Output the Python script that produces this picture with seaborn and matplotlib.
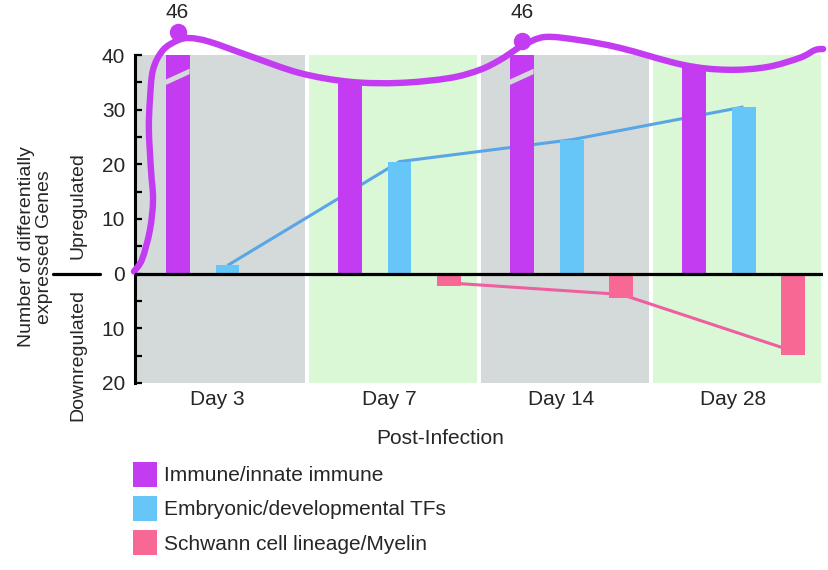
import numpy as np
import pandas as pd
import matplotlib
matplotlib.use("Agg")
import matplotlib.pyplot as plt
import matplotlib.transforms as mtransforms
from matplotlib.path import Path
from matplotlib.patches import PathPatch, Patch, Polygon
import seaborn as sns

# ---------------- data ----------------
days = ["Day 3", "Day 7", "Day 14", "Day 28"]
categories = ["Immune/innate immune", "Embryonic/developmental TFs",
              "Schwann cell lineage/Myelin"]
immune = [46, 35, 46, 38]            # upregulated
embryonic = [1.5, 20.5, 24.5, 30.5]  # upregulated
schwann_down = [0, 2.3, 4.4, 14.8]   # downregulated

y_ticks = [-20, -10, 0, 10, 20, 30, 40]
y_tick_labels = ["20", "10", "0", "10", "20", "30", "40"]
y_minor = [-15, -5, 5, 15, 25, 35]

# hand-drawn immune trend curve (knots, in day/value units)
trend_x = [-0.544, -0.497, -0.451, -0.433, -0.445, -0.457, -0.451, -0.433,
           -0.375, -0.288, -0.218, -0.102, 0.131, 0.421, 0.712, 1.003,
           1.293, 1.468, 1.584, 1.671, 1.718, 1.846, 2.049, 2.282, 2.648,
           2.904, 3.136, 3.328, 3.415, 3.462]
trend_y = [0.4, 2.6, 8.0, 13.5, 19.0, 26.3, 31.8, 37.3,
           40.9, 42.7, 43.1, 42.4, 39.8, 36.7, 35.1, 34.9,
           35.8, 37.3, 39.1, 40.9, 41.8, 43.3, 42.7, 41.3, 38.2,
           37.3, 37.8, 39.5, 40.9, 41.1]
peak_dot_level = [44.2, 42.6]

# ---------------- style ----------------
C_IMM = "#c43cf2"
C_EMB = "#66c6f8"
C_EMB_LINE = "#58a6e6"
C_SCH = "#f76895"
C_SCH_LINE = "#ee5fa0"
C_GRAY = "#d4dad9"
C_GREEN = "#daf7d6"

sns.set_style("white")
plt.rcParams["font.family"] = ["Liberation Sans", "DejaVu Sans"]
FS = 15

fig = plt.figure(figsize=(8.29, 5.70), dpi=100)
ax = fig.add_axes([0.1628, 0.3281, 0.8300, 0.5754])

XL, XR = -0.538, 3.462
ax.set_xlim(XL, XR)
ax.set_ylim(-20, 40)

# background panels
for i in range(len(days)):
    ax.axvspan(i - 0.538 + 0.009, i + 0.462 - 0.009,
               color=C_GRAY if i % 2 == 0 else C_GREEN, lw=0, zorder=0)

df = pd.DataFrame({
    "day": days * 3,
    "category": [categories[0]] * 4 + [categories[1]] * 4 + [categories[2]] * 4,
    "value": immune + embryonic + [-v for v in schwann_down],
})

sns.barplot(data=df, x="day", y="value", hue="category", order=days,
            hue_order=categories, palette=[C_IMM, C_EMB, C_SCH],
            saturation=1, width=0.87, gap=0.52, errorbar=None,
            linewidth=0, legend=False, ax=ax, zorder=2)
ax.set_xlim(XL, XR)
ax.set_ylim(-20, 40)

conts = ax.containers
imm_bars, emb_bars, sch_bars = conts[0], conts[1], conts[2]
cx = lambda b: b.get_x() + b.get_width() / 2

# connecting lines (behind bars)
emb_x = [cx(b) for b in emb_bars]
ax.plot(emb_x, embryonic, color=C_EMB_LINE, lw=2.2, zorder=1.5,
        solid_capstyle="butt")
sch_x = [cx(b) for b, v in zip(sch_bars, schwann_down) if v > 0]
sch_y = [-v + 0.6 for v in schwann_down if v > 0]
ax.plot(sch_x, sch_y, color=C_SCH_LINE, lw=2.2, zorder=1.5,
        solid_capstyle="butt")

# break marks on bars exceeding the axis
ytop = ax.get_ylim()[1]
for b, v in zip(imm_bars, immune):
    if v > ytop:
        xl, xr = b.get_x(), b.get_x() + b.get_width()
        poly = Polygon([(xl, 34.5), (xr, 36.5), (xr, 37.5), (xl, 35.5)],
                       closed=True, facecolor=C_GRAY, lw=0, zorder=2.3)
        ax.add_patch(poly)

# smooth immune trend curve (Catmull-Rom -> cubic Bezier)
P = np.column_stack([trend_x, trend_y])
verts = [P[0]]
codes = [Path.MOVETO]
n = len(P)
for i in range(n - 1):
    p0 = P[i - 1] if i > 0 else P[i]
    p1, p2 = P[i], P[i + 1]
    p3 = P[i + 2] if i + 2 < n else P[i + 1]
    c1 = p1 + (p2 - p0) / 6.0
    c2 = p2 - (p3 - p1) / 6.0
    verts += [c1, c2, p2]
    codes += [Path.CURVE4] * 3
curve = PathPatch(Path(verts, codes), fill=False, edgecolor=C_IMM, lw=4.6,
                  capstyle="round", joinstyle="round", zorder=3, clip_on=False)
ax.add_patch(curve)

# peak dots and labels
btrans = mtransforms.blended_transform_factory(ax.transData, ax.transAxes)
k = 0
for b, v in zip(imm_bars, immune):
    if v > ytop:
        ax.plot([cx(b)], [peak_dot_level[k]], "o", color=C_IMM, ms=11.5,
                zorder=4, clip_on=False)
        ax.text(cx(b), 1.13, f"{v}", transform=btrans, ha="center",
                va="center", fontsize=FS)
        k += 1

# zero line
ax.axhline(0, color="black", lw=2.3, zorder=3.5)

# spines and ticks
for s in ["top", "right", "bottom"]:
    ax.spines[s].set_visible(False)
ax.spines["left"].set_linewidth(2.2)
ax.spines["left"].set_color("black")
ax.set_yticks(y_ticks)
ax.set_yticklabels(y_tick_labels, fontsize=FS)
ax.set_yticks(y_minor, minor=True)
ax.tick_params(axis="y", which="both", direction="in", length=5, width=1.6,
               color="black", pad=7, left=True)
ax.set_xticks([i - 0.06 for i in range(len(days))])
ax.set_xticklabels(days, fontsize=FS)
ax.tick_params(axis="x", length=0, pad=5)

ax.set_xlabel("Post-Infection", fontsize=FS)
ax.xaxis.set_label_coords(0.443, -0.168)
ax.xaxis.label.set_va("center")

ax.set_ylabel("Number of differentially\nexpressed Genes", fontsize=14,
              linespacing=1.05)
ax.yaxis.set_label_coords(-0.145, 0.415)
ax.yaxis.label.set_va("center")

# Up / Down labels and separator
ytrans = mtransforms.blended_transform_factory(ax.transAxes, ax.transData)
ax.text(-0.0825, 12.4, "Upregulated", transform=ytrans, rotation=90,
        ha="center", va="center", fontsize=14)
ax.text(-0.0825, -14.8, "Downregulated", transform=ytrans, rotation=90,
        ha="center", va="center", fontsize=14)
ax.plot([-0.119, -0.051], [0, 0], transform=ytrans, color="black", lw=2.3,
        clip_on=False)

# legend
handles = [Patch(facecolor=c, edgecolor="none") for c in (C_IMM, C_EMB, C_SCH)]
fig.legend(handles, categories, loc="upper left",
           bbox_to_anchor=(133 / 829, 1 - 462 / 570), frameon=False,
           fontsize=FS, borderpad=0, borderaxespad=0, handlelength=1.15,
           handleheight=1.44, labelspacing=0.46, handletextpad=0.34)

fig.savefig("out.png", dpi=100)
